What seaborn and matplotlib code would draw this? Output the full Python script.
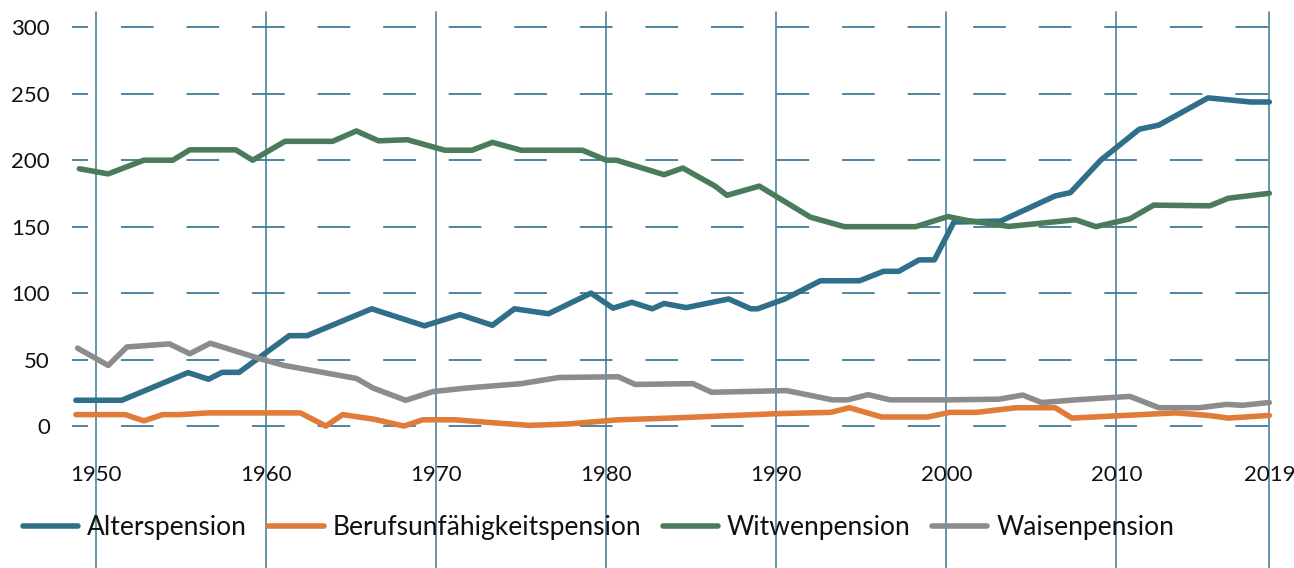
import numpy as np
import pandas as pd
import matplotlib
matplotlib.use("Agg")
import matplotlib.pyplot as plt
from matplotlib.lines import Line2D
import seaborn as sns

# ---------------- data ----------------
series_names = ["Alterspension", "Berufsunfähigkeitspension", "Witwenpension", "Waisenpension"]
series_colors = ["#2f6f8a", "#e07b39", "#4a7c5c", "#8c8c8c"]

alter_years = [1948.8, 1951.5, 1955.4, 1956.6, 1957.4, 1958.4, 1961.35, 1962.4, 1966.2, 1969.3,
               1971.4, 1973.3, 1974.6, 1976.6, 1979.1, 1980.4, 1981.5, 1982.7, 1983.4, 1984.7,
               1987.2, 1988.5, 1988.9, 1990.5, 1992.6, 1994.9, 1996.3, 1997.2, 1998.4, 1999.3,
               2000.45, 2003.2, 2006.4, 2007.3, 2009.1, 2011.35, 2012.5, 2015.4, 2017.9, 2019.0]
alter_vals = [19.4, 19.4, 40.2, 35.2, 40.4, 40.4, 68.0, 68.0, 88.2, 75.4,
              83.8, 75.8, 88.2, 84.5, 100.0, 88.7, 93.1, 88.2, 92.2, 89.1,
              95.6, 88.2, 88.2, 95.6, 109.3, 109.3, 116.4, 116.4, 125.0, 125.0,
              153.5, 154.2, 173.1, 175.6, 200.2, 223.3, 226.4, 246.9, 243.8, 243.8]

beruf_years = [1948.8, 1951.7, 1952.8, 1953.9, 1954.9, 1956.6, 1962.0, 1963.5, 1964.5, 1966.3,
               1968.1, 1969.2, 1971.1, 1973.0, 1975.5, 1977.8, 1980.7, 1983.8, 1990.0, 1993.2,
               1994.3, 1996.2, 1998.9, 2000.2, 2001.8, 2004.1, 2006.4, 2007.4, 2013.5, 2015.4,
               2016.6, 2019.0]
beruf_vals = [8.6, 8.6, 3.9, 8.6, 8.6, 9.9, 9.9, 0.0, 8.6, 5.2,
              0.0, 4.7, 4.7, 2.8, 0.5, 1.6, 4.7, 6.0, 9.3, 10.3,
              13.8, 6.8, 6.8, 10.3, 10.3, 13.8, 13.8, 6.0, 9.9, 8.0,
              6.0, 8.0]

witwe_years = [1949.0, 1950.7, 1952.8, 1954.5, 1955.5, 1958.2, 1959.2, 1961.1, 1963.9, 1965.3,
               1966.6, 1968.3, 1970.5, 1972.1, 1973.3, 1975.0, 1978.6, 1980.0, 1980.6, 1983.4,
               1984.5, 1986.4, 1987.1, 1989.0, 1992.0, 1994.0, 1998.2, 2000.1, 2001.2, 2003.7,
               2007.6, 2008.8, 2010.8, 2012.2, 2015.5, 2016.6, 2019.0]
witwe_vals = [193.6, 189.7, 200.0, 200.0, 207.8, 207.8, 200.0, 214.2, 214.2, 222.0,
              214.6, 215.4, 207.5, 207.5, 213.4, 207.5, 207.5, 200.0, 200.0, 189.1,
              194.1, 180.5, 173.6, 180.5, 157.2, 150.0, 150.0, 157.6, 154.7, 150.2,
              155.2, 150.0, 155.9, 166.2, 165.7, 171.4, 175.1]

waisen_years = [1948.9, 1950.7, 1951.8, 1954.3, 1955.5, 1956.7, 1959.8, 1961.05, 1965.3, 1966.3,
                1968.2, 1969.8, 1971.7, 1975.0, 1977.2, 1980.7, 1981.7, 1985.1, 1986.2, 1990.6,
                1993.3, 1994.2, 1995.4, 1996.7, 2000.0, 2003.1, 2004.5, 2005.6, 2007.6, 2010.8,
                2012.5, 2014.9, 2016.5, 2017.4, 2019.0]
waisen_vals = [58.6, 45.6, 59.5, 61.8, 54.4, 62.3, 50.0, 45.6, 35.8, 28.5,
               19.4, 25.9, 28.5, 31.9, 36.5, 37.1, 31.3, 31.9, 25.4, 26.7,
               19.7, 19.7, 23.6, 19.7, 19.7, 20.2, 23.3, 17.7, 19.7, 22.3,
               13.8, 13.8, 16.3, 15.6, 17.7]

x_ticks = [1950, 1960, 1970, 1980, 1990, 2000, 2010, 2019]
y_ticks = [0, 50, 100, 150, 200, 250, 300]

# ---------------- build long-form frame ----------------
frames = []
for name, yrs, vals in zip(series_names,
                           [alter_years, beruf_years, witwe_years, waisen_years],
                           [alter_vals, beruf_vals, witwe_vals, waisen_vals]):
    frames.append(pd.DataFrame({"Jahr": yrs, "Wert": vals, "Pension": name}))
df = pd.concat(frames, ignore_index=True)

# ---------------- style ----------------
sns.set_theme(style="white")
plt.rcParams["font.family"] = ["Lato", "DejaVu Sans"]
plt.rcParams["lines.scale_dashes"] = False

W, H = 1294, 568
fig = plt.figure(figsize=(W / 100, H / 100), dpi=100)
ax_left, ax_right, ax_top, ax_bottom = 72, 1272, 12, 440
ax = fig.add_axes([ax_left / W, 1 - ax_bottom / H, (ax_right - ax_left) / W, (ax_bottom - ax_top) / H])

sns.lineplot(data=df, x="Jahr", y="Wert", hue="Pension", hue_order=series_names,
             palette=series_colors, estimator=None, sort=False, linewidth=4.0,
             legend=False, ax=ax, zorder=3)

ax.set_xlim(1948.57, 2019.16)
ax.set_ylim(-10.5, 311.5)
ax.set_xlabel("")
ax.set_ylabel("")

for s in ax.spines.values():
    s.set_visible(False)

ax.set_yticks(y_ticks)
ax.set_yticklabels([str(v) for v in y_ticks])
ax.set_xticks(x_ticks)
ax.set_xticklabels([str(v) for v in x_ticks])

ax.yaxis.grid(True, color="#3f7b98", linewidth=1.3, linestyle=(11.95, (23.5, 23.7)), zorder=0)
ax.xaxis.grid(False)
ax.set_axisbelow(True)

# vertical grid lines running through the labels to the figure bottom
ymin_ext = -(H - ax_bottom) / (ax_bottom - ax_top)
for xv in x_ticks:
    ax.axvline(xv, ymin=ymin_ext, ymax=1.0, color="#4a84a0", linewidth=1.2,
               clip_on=False, zorder=0.5)

ax.tick_params(axis="both", length=0, labelsize=16, colors="#111111")
ax.tick_params(axis="y", pad=16)
ax.tick_params(axis="x", pad=18)

handles = [Line2D([0], [0], color=c, lw=4.0) for c in series_colors]
fig.legend(handles, series_names, loc="center left",
           bbox_to_anchor=(23 / W, 1 - 528 / H), ncol=4, frameon=False,
           fontsize=19, handlelength=2.1, handletextpad=0.34, columnspacing=0.8,
           borderpad=0, borderaxespad=0, labelcolor="#111111")

fig.savefig("out.png", dpi=100)
